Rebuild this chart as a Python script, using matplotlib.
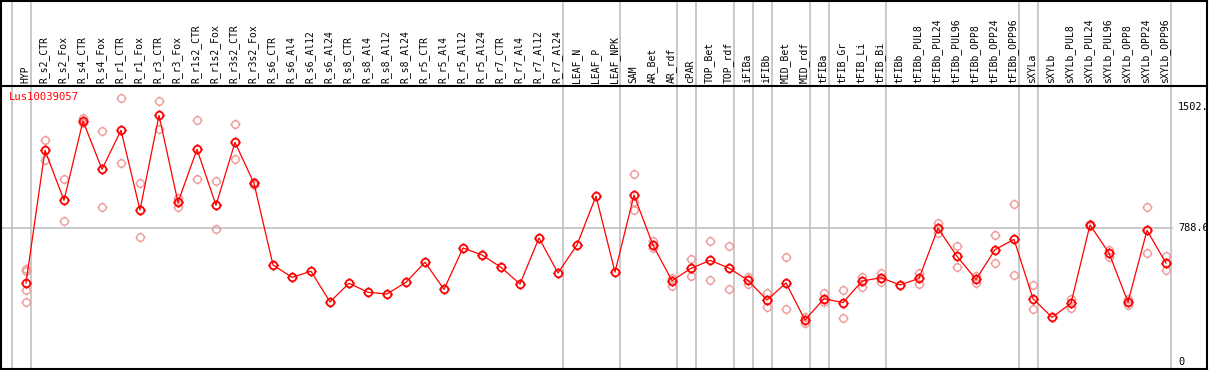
import numpy as np
import matplotlib.pyplot as plt
from matplotlib.path import Path

# column labels (samples)
labels = ['HYP', 'R_s2_CTR', 'R_s2_Fox', 'R_s4_CTR', 'R_s4_Fox', 'R_r1_CTR', 'R_r1_Fox',
          'R_r3_CTR', 'R_r3_Fox', 'R_r1s2_CTR', 'R_r1s2_Fox', 'R_r3s2_CTR', 'R_r3s2_Fox',
          'R_s6_CTR', 'R_s6_Al4', 'R_s6_Al12', 'R_s6_Al24', 'R_s8_CTR', 'R_s8_Al4',
          'R_s8_Al12', 'R_s8_Al24', 'R_r5_CTR', 'R_r5_Al4', 'R_r5_Al12', 'R_r5_Al24',
          'R_r7_CTR', 'R_r7_Al4', 'R_r7_Al12', 'R_r7_Al24', 'LEAF_N', 'LEAF_P', 'LEAF_NPK',
          'SAM', 'AR_Bet', 'AR_rdf', 'cPAR', 'TOP_Bet', 'TOP_rdf', 'iFIBa', 'iFIBb',
          'MID_Bet', 'MID_rdf', 'tFIBa', 'tFIB_Gr', 'tFIB_Li', 'tFIB_Bi', 'tFIBb',
          'tFIBb_PUL8', 'tFIBb_PUL24', 'tFIBb_PUL96', 'tFIBb_OPP8', 'tFIBb_OPP24',
          'tFIBb_OPP96', 'sXYLa', 'sXYLb', 'sXYLb_PUL8', 'sXYLb_PUL24', 'sXYLb_PUL96',
          'sXYLb_OPP8', 'sXYLb_OPP24', 'sXYLb_OPP96']

# mean expression
means = [465, 1247, 952, 1420, 1135, 1365, 895, 1453, 940, 1253, 923, 1294, 1052,
         571, 498, 534, 353, 463, 410, 400, 469, 587, 427, 671, 630, 557, 459, 730, 524,
         689, 977, 529, 983, 687, 478, 551, 598, 553, 480, 364, 465, 246, 372, 349, 476,
         496, 453, 492, 787, 622, 486, 661, 722, 372, 262, 345, 807, 641, 352, 775, 582]

# replicate values (empty = no replicates shown)
reps = [[547, 535, 423, 353], [1306, 1188], [1078, 830], [1436, 1406], [1359, 911],
        [1554, 1170], [1052, 734], [1536, 1371], [964, 915], [1424, 1076], [1064, 781],
        [1400, 1194], [1060, 1045],
        [], [], [], [], [], [], [], [], [], [], [], [], [], [], [], [], [], [], [],
        [1107, 940, 895], [714, 669], [496, 449], [606, 504], [710, 480], [683, 427],
        [502, 459], [406, 325], [616, 313], [262, 231], [407, 352], [421, 256],
        [502, 443], [525, 468], [],
        [523, 457], [817, 758], [681, 561], [506, 467], [748, 581], [928, 510],
        [451, 310], [], [372, 317], [812, 803], [661, 616], [372, 333], [913, 640],
        [624, 539]]

# group separators (after these column indices)
bounds = [-1, 0, 28, 31, 34, 35, 37, 38, 39, 41, 42, 45, 52, 53, 60]

gene = 'Lus10039057'
ymax_label = '1502.'
ymid = 788.6

# pixel layout: zero at y=361.8px, 0.1696 px per unit, columns 19px apart from x=26px
W, H = 1209, 370
Y0, PXU = 361.8, 0.1696
X0, DX = 26.0, 19.0


def vy(py):
    return (Y0 - py) / PXU


def vx(px):
    return (px - X0) / DX


# circle marker with four little ticks
theta = np.linspace(0, 2 * np.pi, 33)
cv = list(zip(np.cos(theta), np.sin(theta)))
circ = Path(cv, [Path.MOVETO] + [Path.LINETO] * 31 + [Path.CLOSEPOLY])
tv = [(0, 1), (0, 1.35), (0, -1), (0, -1.35), (1, 0), (1.35, 0), (-1, 0), (-1.35, 0)]
tc = [Path.MOVETO, Path.LINETO] * 4
mark = Path.make_compound_path(circ, Path(tv, tc))

mono = 'DejaVu Sans Mono'
fig = plt.figure(figsize=(W / 100, H / 100), dpi=100)
ax = fig.add_axes([0, 0, 1, 1])
ax.set_xlim(vx(0), vx(W))
ax.set_ylim(vy(H), vy(0))
ax.axis('off')

x = np.arange(len(labels))

# group lines and reference line
for b in bounds:
    ax.axvline(b + 0.24, color='#c0c0c0', lw=1.2, zorder=1)
ax.plot([vx(0), vx(1172)], [ymid, ymid], color='#c0c0c0', lw=1.2, zorder=1)

# replicates
for i, r in enumerate(reps):
    if r:
        ax.plot([i] * len(r), r, ls='none', marker=mark, ms=7.2, mfc='none',
                mec='#ef9a9a', mew=1.0, zorder=2)

ax.plot(x, means, color='#ff0000', lw=0.9, marker=mark, ms=7.4, mfc='none',
        mec='#ff0000', mew=1.3, zorder=3)

# header labels
for i, lab in enumerate(labels):
    ax.text(i - 0.05, vy(83), lab, rotation=90, ha='center', va='bottom',
            fontsize=7, family=mono, color='black')

ax.text(vx(9), vy(97), gene, color='#ff0000', fontsize=7.6, family=mono,
        ha='left', va='center')
for v, s in [(vy(107), ymax_label), (ymid, '788.6'), (vy(362), '0')]:
    ax.text(vx(1178), v, s, fontsize=7.4, family=mono, ha='left', va='center')

# frame
k = dict(color='black', lw=1.5, zorder=4, clip_on=False)
ax.plot([vx(0.8), vx(0.8)], [vy(0), vy(369)], **k)
ax.plot([vx(1207), vx(1207)], [vy(0), vy(369)], **k)
ax.plot([vx(0), vx(1207)], [vy(0.8), vy(0.8)], **k)
ax.plot([vx(0), vx(1207)], [vy(85.5), vy(85.5)], **k)
ax.plot([vx(0), vx(1207)], [vy(369), vy(369)], **k)

plt.savefig('out.png', dpi=100)
